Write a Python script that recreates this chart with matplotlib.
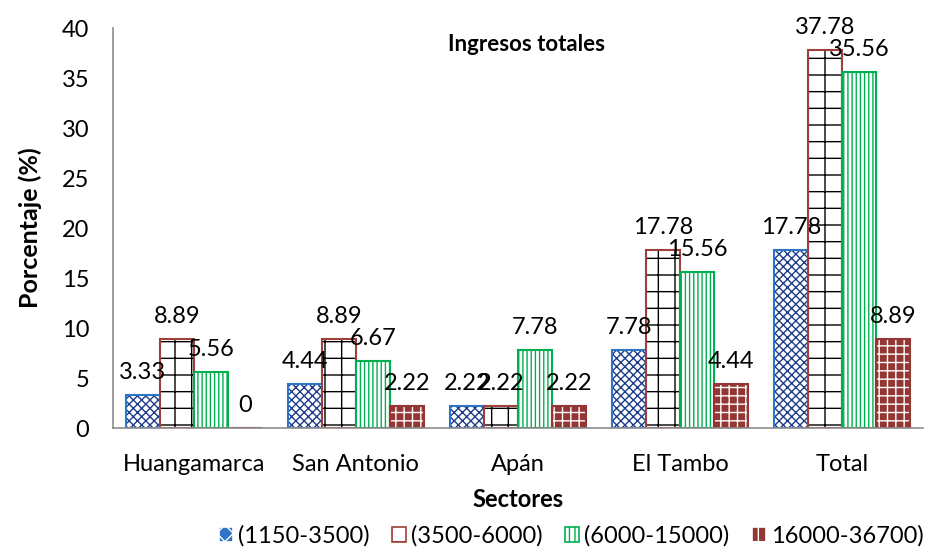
import matplotlib.pyplot as plt
import numpy as np

plt.rcParams["font.family"] = ["Lato", "DejaVu Sans"]

sectores = ["Huangamarca", "San Antonio", "Apán", "El Tambo", "Total"]
series = ["(1150-3500)", "(3500-6000)", "(6000-15000)", "16000-36700)"]
v1 = [3.33, 4.44, 2.22, 7.78, 17.78]
v2 = [8.89, 8.89, 2.22, 17.78, 37.78]
v3 = [5.56, 6.67, 7.78, 15.56, 35.56]
v4 = [0, 2.22, 2.22, 4.44, 8.89]
valores = [v1, v2, v3, v4]

# (face, hatch colour, hatch, outline)
estilos = [
    ("white", "#1f3c88", "xxxx", "#2e75c7"),
    ("white", "black", "+", "#a0403c"),
    ("white", "#00b050", "||||", "#00b050"),
    ("#943634", "white", "++", "#943634"),
]
# patches for the legend (hatch drawn in outline colour)
estilos_leyenda = [
    ("#2e75c7", "white", "xx"),
    ("white", "#a0403c", "+"),
    ("white", "#00b050", "|||"),
    ("#943634", "white", "+"),
]

fig = plt.figure(figsize=(9.32, 5.55), dpi=100)
ax = fig.add_axes([0.1212, 0.2288, 0.869, 0.7207])

x = np.arange(len(sectores))
w = 0.21
for i, (vals, (fc, hc, h, ec)) in enumerate(zip(valores, estilos)):
    pos = x + (i - 1.5) * w
    ax.bar(pos, vals, w, color=fc, edgecolor=hc, hatch=h, linewidth=0)
    ax.bar(pos, vals, w, fill=False, edgecolor=ec, linewidth=1.5,
           label=series[i])
    for p, v in zip(pos, vals):
        ax.text(p, v + 1.2, f"{v:g}", ha="center", va="bottom", fontsize=17)

ax.set_xlim(-0.5, 4.5)
ax.set_ylim(0, 40)
ax.set_yticks(range(0, 41, 5))
ax.set_xticks(x)
ax.set_xticklabels(sectores)
ax.tick_params(length=0, labelsize=17)
ax.tick_params(axis="x", pad=19)
ax.tick_params(axis="y", pad=17)
for s in ["top", "right"]:
    ax.spines[s].set_visible(False)
for s in ["left", "bottom"]:
    ax.spines[s].set_color("#8c8c8c")
    ax.spines[s].set_linewidth(1.2)

ax.set_xlabel("Sectores", fontsize=17, fontweight="bold", labelpad=9)
ax.set_ylabel("Porcentaje (%)", fontsize=18, fontweight="bold", labelpad=14)
ax.text(0.51, 0.985, "Ingresos totales", transform=ax.transAxes,
        ha="center", va="top", fontsize=16, fontweight="bold")

handles = []
for (fc, ec, h) in estilos_leyenda:
    handles.append(plt.Rectangle((0, 0), 1, 1, facecolor=fc, edgecolor=ec,
                                 hatch=h, linewidth=1.2))
leg = fig.legend(handles, series, loc="lower center", ncol=4, frameon=False,
                 fontsize=17, bbox_to_anchor=(0.613, -0.01), handlelength=0.6,
                 handleheight=0.6, handletextpad=0.2, columnspacing=0.95,
                 borderaxespad=0.2)

fig.savefig("out.png", dpi=100)
